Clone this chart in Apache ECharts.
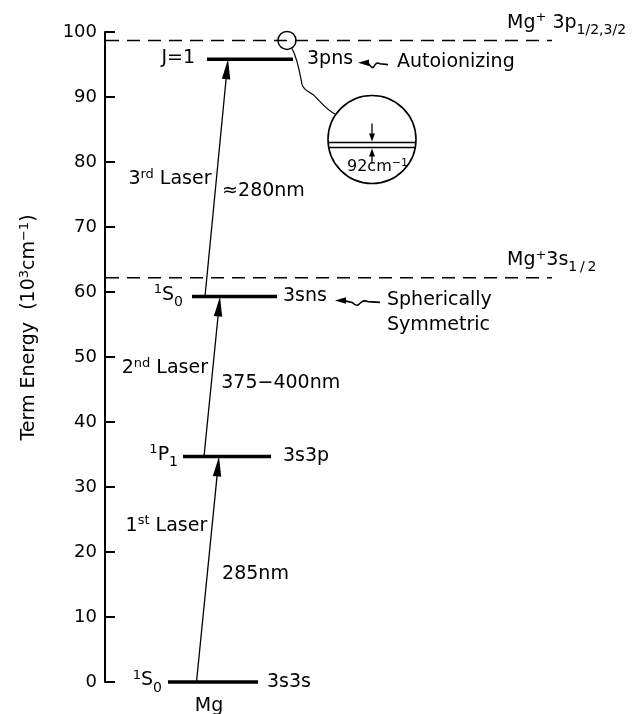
<!DOCTYPE html>
<html><head><meta charset="utf-8">
<script src="https://cdn.jsdelivr.net/npm/echarts@6/dist/echarts.min.js"></script>
<style>html,body{margin:0;padding:0;background:#fff}#c{width:639px;height:714px}</style>
</head><body><div id="c"></div>
<script>
// ---------------- data ----------------
const levelTerm   = ['^{1}S_{0}', '^{1}P_{1}', '^{1}S_{0}', 'J=1'];
const levelConfig = ['3s3s', '3s3p', '3sns', '3pns'];
const levelEnergy = [0, 34.7, 59.3, 95.8];      // 10^3 cm^-1
const levelStart  = [12.6, 15.6, 17.4, 20.4];   // horizontal extent, arbitrary units
const levelEnd    = [30.6, 33.2, 34.4, 37.6];
const levelNote   = ['', '', 'Spherically\nSymmetric', 'Autoionizing'];
const elementName = 'Mg';

const limitLabel  = ['Mg^{+}3s_{1\u2009/\u20092}', 'Mg^{+} 3p_{1/2,3/2}'];
const limitEnergy = [62.2, 98.7];
const limitEnd    = [89.4, 89.4];

const laserName   = ['1^{st} Laser', '2^{nd} Laser', '3^{rd} Laser'];
const laserWave   = ['285nm', '375\u2212400nm', '\u2248280nm'];
const laserLower  = [0, 1, 2];
const laserUpper  = [1, 2, 3];
const laserFromX  = [18.3, 19.8, 20.0];
const laserToX    = [22.8, 23.0, 24.6];

const insetLabel  = '92cm^{\u22121}';
const yAxisTitle  = 'Term Energy  (10^{3}cm^{\u22121})';
const yMin = 0, yMax = 100, yStep = 10;

// ---------------- helpers ----------------
const F = 'DejaVu Sans';
const INK = '#000';
function richStyles(size) {
  const s = size / 19;
  return {
    n:   {fontFamily: F, fontSize: size, lineHeight: 22 * s, padding: [4 * s, 0, 0, 0], verticalAlign: 'top', fill: INK, color: INK},
    sup: {fontFamily: F, fontSize: 13 * s, lineHeight: 13 * s, padding: [2 * s, 0, 0, 0], verticalAlign: 'top', fill: INK, color: INK},
    sub: {fontFamily: F, fontSize: 14 * s, lineHeight: 16 * s, padding: [14 * s, 0, 0, 0], verticalAlign: 'top', fill: INK, color: INK}
  };
}
function rich(str) {
  let out = '', buf = '', i = 0;
  const flush = () => { if (buf) { out += '{n|' + buf + '}'; buf = ''; } };
  while (i < str.length) {
    const c = str[i];
    if ((c === '^' || c === '_') && str[i + 1] === '{') {
      flush();
      const j = str.indexOf('}', i);
      out += '{' + (c === '^' ? 'sup' : 'sub') + '|' + str.slice(i + 2, j) + '}';
      i = j + 1;
    } else { buf += c; i++; }
  }
  flush();
  return out;
}
function T(x, y, s, align, size) {
  size = size || 19;
  return {type: 'text', x: x, y: y - 15 * size / 19, silent: true,
    style: {text: rich(s), rich: richStyles(size), align: align || 'left', verticalAlign: 'top',
            fill: INK, font: size + 'px "' + F + '"'}};
}
function arrow(x1, y1, x2, y2, headLen, headHalf, lw) {
  const dx = x2 - x1, dy = y2 - y1, L = Math.hypot(dx, dy);
  const ux = dx / L, uy = dy / L, bx = x2 - ux * headLen, by = y2 - uy * headLen;
  return [
    {type: 'line', shape: {x1: x1, y1: y1, x2: bx + ux, y2: by + uy}, style: {stroke: INK, lineWidth: lw}},
    {type: 'polygon', shape: {points: [[x2, y2], [bx - uy * headHalf, by + ux * headHalf], [bx + uy * headHalf, by - ux * headHalf]]},
     style: {fill: INK}}
  ];
}
function squiggle(tx, ty, len) {
  // small wavy pointer with a left-pointing head at (tx, ty)
  const k = len / 45;
  const p = (a, b) => (tx + a * k).toFixed(1) + ' ' + (ty + b).toFixed(1);
  return [
    {type: 'polygon', shape: {points: [[tx, ty], [tx + 11, ty - 3.2], [tx + 11, ty + 3.2]]}, style: {fill: INK}},
    {type: 'path', shape: {pathData: 'M' + (tx + 10).toFixed(1) + ' ' + (ty + 0.3).toFixed(1) + ' L' + p(17, 1.8) + ' Q' + p(21, 5.5) + ' ' + p(23, 4.5) +
      ' Q' + p(25, 2.5) + ' ' + p(27, 1) + ' Q' + p(29, -0.5) + ' ' + p(33, 1) + ' L' + p(45, 1.8)},
     style: {stroke: INK, lineWidth: 1.6, fill: null}}
  ];
}

// ---------------- chart ----------------
const chart = echarts.init(document.getElementById('c'), null, {renderer: 'canvas'});

const levelData = levelEnergy.map((e, i) => [levelStart[i], e, levelEnd[i]]);
const laserData = laserFromX.map((x, i) => [x, levelEnergy[laserLower[i]], laserToX[i], levelEnergy[laserUpper[i]]]);
const limitData = limitEnergy.map((e, i) => [0, e, limitEnd[i]]);

const laserLayout = {nameAt: [0.70, 0.56, 0.50], waveAt: [0.47, 0.45, 0.44], waveGap: [15, 10, 7]};
const levelLayout = {termGap: [6, 5, 9, 12], configGap: [9, 12, 6, 14]};

chart.setOption({
  animation: false,
  backgroundColor: '#fff',
  grid: {left: 105, right: 34, top: 32, bottom: 32, containLabel: false, outerBoundsMode: 'none'},
  xAxis: {type: 'value', min: 0, max: 100, show: false},
  yAxis: {
    type: 'value', min: yMin, max: yMax, interval: yStep,
    name: rich(yAxisTitle), nameLocation: 'middle', nameRotate: 90, nameGap: 67,
    nameTextStyle: {rich: richStyles(19), padding: [0, 0, 0, 59]},
    axisLine: {show: true, lineStyle: {color: INK, width: 2}},
    axisTick: {show: true, inside: true, length: 10, lineStyle: {color: INK, width: 2}},
    axisLabel: {color: INK, fontFamily: F, fontSize: 18, margin: 8},
    splitLine: {show: false}
  },
  series: [
    {
      type: 'custom', name: 'limits', clip: false, silent: true,
      data: limitData, encode: {x: [0, 2], y: 1},
      renderItem(params, api) {
        const i = params.dataIndex;
        const a = api.coord([api.value(0), api.value(1)]);
        const b = api.coord([api.value(2), api.value(1)]);
        const lx = api.coord([80.4, 0])[0];
        const ch = [
          {type: 'line', shape: {x1: a[0] + 1, y1: a[1], x2: b[0], y2: b[1]},
           style: {stroke: INK, lineWidth: 1.5, lineDash: [13, 8]}},
          T(lx, a[1] - 16, limitLabel[i], 'left')
        ];
        if (i === 1) {
          // magnified inset of the 3p fine-structure splitting
          const cx = api.coord([levelEnd[3], 0])[0] - 6, cy = a[1];
          ch.push({type: 'circle', shape: {cx: cx, cy: cy, r: 9}, style: {stroke: INK, lineWidth: 1.5, fill: null}});
          const X = cx + 85, Y = cy + 99, R = 44;
          ch.push({type: 'path', shape: {pathData:
            'M' + (cx + 5) + ' ' + (cy + 8) + ' C' + (cx + 11) + ' ' + (cy + 19) + ' ' + (cx + 13) + ' ' + (cy + 34) + ' ' + (cx + 15) + ' ' + (cy + 44) +
            ' C' + (cx + 17) + ' ' + (cy + 51) + ' ' + (cx + 23) + ' ' + (cy + 51) + ' ' + (cx + 27) + ' ' + (cy + 55) +
            ' C' + (cx + 35) + ' ' + (cy + 63) + ' ' + (cx + 41) + ' ' + (cy + 71) + ' ' + (X - 36) + ' ' + (Y - 25)},
            style: {stroke: INK, lineWidth: 1.2, fill: null}});
          ch.push({type: 'circle', shape: {cx: X, cy: Y, r: R}, style: {stroke: INK, lineWidth: 1.6, fill: '#fff'}});
          [3, 8].forEach(d => {
            const w = Math.sqrt(R * R - d * d);
            ch.push({type: 'line', shape: {x1: X - w, y1: Y + d, x2: X + w, y2: Y + d}, style: {stroke: INK, lineWidth: 1.5}});
          });
          arrow(X, Y - 16, X, Y + 2, 8, 3, 1.3).forEach(e => ch.push(e));
          arrow(X, Y + 24, X, Y + 9, 8, 3, 1.3).forEach(e => ch.push(e));
          ch.push(T(X - 25, Y + 29, insetLabel, 'left', 16));
        }
        return {type: 'group', children: ch};
      }
    },
    {
      type: 'custom', name: 'levels', clip: false, silent: true,
      data: levelData, encode: {x: [0, 2], y: 1},
      renderItem(params, api) {
        const i = params.dataIndex;
        const a = api.coord([api.value(0), api.value(1)]);
        const b = api.coord([api.value(2), api.value(1)]);
        const ch = [
          {type: 'line', shape: {x1: a[0], y1: a[1], x2: b[0], y2: b[1]}, style: {stroke: INK, lineWidth: 3.5}},
          T(a[0] - levelLayout.termGap[i], a[1], levelTerm[i], 'right'),
          T(b[0] + levelLayout.configGap[i], a[1] + 1.5, levelConfig[i], 'left')
        ];
        if (i === 0) ch.push(T((a[0] + b[0]) / 2 - 4, a[1] + 26, elementName, 'center'));
        if (levelNote[i]) {
          const off = i === 2 ? [58, 45, 110] : [65, 30, 104];
          squiggle(b[0] + off[0], a[1] + (i === 2 ? 4 : 3.5), off[1]).forEach(e => ch.push(e));
          levelNote[i].split('\n').forEach((ln, k) => ch.push(T(b[0] + off[2], a[1] + 5 + 25 * k - (i === 3 ? 1 : 0), ln, 'left')));
        }
        return {type: 'group', children: ch};
      }
    },
    {
      type: 'custom', name: 'lasers', clip: false, silent: true,
      data: laserData, encode: {x: [0, 2], y: [1, 3]},
      renderItem(params, api) {
        const i = params.dataIndex;
        const s = api.coord([api.value(0), api.value(1)]);
        const t = api.coord([api.value(2), api.value(3)]);
        const at = f => [s[0] + (t[0] - s[0]) * f, s[1] + (t[1] - s[1]) * f];
        const ch = arrow(s[0], s[1], t[0], t[1], 20, 4.2, 1.3);
        const pn = at(laserLayout.nameAt[i]);
        const pw = at(laserLayout.waveAt[i]);
        ch.push(T(pn[0] - 5, pn[1] + 3, laserName[i], 'right'));
        ch.push(T(pw[0] + laserLayout.waveGap[i], pw[1], laserWave[i], 'left'));
        return {type: 'group', children: ch};
      }
    }
  ]
});
</script>
</body></html>
